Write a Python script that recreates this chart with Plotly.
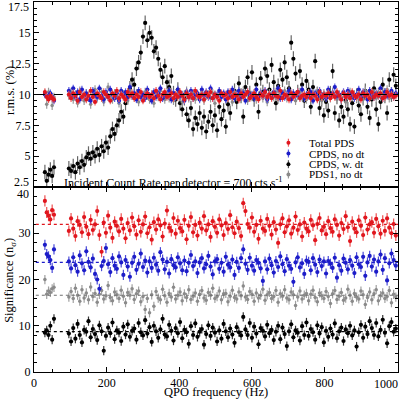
import plotly.graph_objects as go
from plotly.subplots import make_subplots

# ---------------- data ----------------
freq = [30, 35, 40, 45, 50, 55,
        96, 102, 108, 114, 120, 126, 132, 138, 144, 150,
        156, 162, 168, 174, 180, 186, 192, 198, 204, 210,
        216, 222, 228, 234, 240, 246, 252, 258, 264, 270,
        276, 282, 288, 294, 300, 306, 312, 318, 324, 330,
        336, 342, 348, 354, 360, 366, 372, 378, 384, 390,
        396, 402, 408, 414, 420, 426, 432, 438, 444, 450,
        456, 462, 468, 474, 480, 486, 492, 498, 504, 510,
        516, 522, 528, 534, 540, 546, 552, 558, 564, 570,
        576, 582, 588, 594, 600, 606, 612, 618, 624, 630,
        636, 642, 648, 654, 660, 666, 672, 678, 684, 690,
        696, 702, 708, 714, 720, 726, 732, 738, 744, 750,
        756, 762, 768, 774, 780, 786, 792, 798, 804, 810,
        816, 822, 828, 834, 840, 846, 852, 858, 864, 870,
        876, 882, 888, 894, 900, 906, 912, 918, 924, 930,
        936, 942, 948, 954, 960, 966, 972, 978, 984, 990,
        996]

# r.m.s. (%) -- top panel
rms_total = [10.2, 9.8, 9.6, 9.9, 9.7, 9.6,
    10.0, 9.7, 10.1, 9.9, 9.5, 10.2, 9.8, 10.0, 9.6, 9.9,
    10.3, 9.8, 9.4, 10.1, 9.9, 9.7, 10.2, 10.0, 9.8, 9.5,
    10.1, 9.9, 10.3, 9.7, 10.0, 9.8, 9.6, 10.2, 9.9, 10.1,
    9.7, 10.0, 9.8, 10.2, 9.5, 9.9, 10.1, 9.8, 10.0, 9.7,
    10.3, 9.9, 9.6, 10.0, 10.2, 9.8, 9.9, 10.1, 9.7, 10.0,
    9.8, 10.2, 9.9, 9.6, 10.1, 9.8, 10.0, 9.7, 10.3, 9.9,
    9.8, 10.0, 9.6, 10.1, 9.9, 10.2, 9.7, 10.0, 9.8, 9.5,
    10.1, 9.9, 10.0, 9.7, 10.2, 9.8, 10.0, 9.9, 9.6, 10.1,
    9.8, 10.0, 10.2, 9.7, 9.9, 10.1, 9.8, 9.6, 10.0, 9.9,
    10.2, 9.8, 10.0, 9.7, 10.1, 9.9, 9.8, 10.3, 9.7, 10.0,
    9.9, 9.6, 10.1, 9.8, 10.0, 10.2, 9.7, 9.9, 10.0, 9.8,
    10.1, 9.7, 10.0, 9.9, 9.6, 10.2, 9.8, 10.0, 9.9, 10.1,
    9.7, 10.0, 9.8, 10.2, 9.9, 9.6, 10.1, 9.8, 10.0, 9.7,
    10.2, 9.9, 9.8, 10.0, 9.6, 10.1, 9.9, 10.0, 9.7, 10.2,
    9.8, 10.0, 9.9, 10.1, 9.7, 9.8, 10.2, 9.9, 10.0, 9.8,
    9.9]

rms_cpds = [10.0, 9.9, 9.7, 10.1, 9.8, 9.5,
    10.3, 9.9, 10.5, 9.8, 10.2, 9.6, 10.4, 9.9, 10.1, 9.7,
    9.5, 10.3, 10.0, 9.8, 10.5, 9.9, 9.6, 10.2, 9.8, 10.4,
    10.0, 9.7, 10.1, 9.5, 10.3, 9.9, 10.2, 9.8, 10.6, 9.9,
    10.1, 9.6, 10.3, 9.8, 10.0, 9.7, 10.4, 9.9, 9.5, 10.2,
    9.8, 10.1, 10.5, 9.7, 10.0, 9.9, 10.3, 9.6, 10.1, 9.8,
    10.4, 9.9, 10.0, 9.5, 10.2, 9.8, 10.3, 9.7, 10.0, 10.1,
    9.6, 10.4, 9.9, 10.2, 9.8, 10.5, 9.7, 10.0, 9.9, 10.3,
    9.8, 10.1, 9.6, 10.2, 9.9, 10.4, 9.7, 10.0, 10.3, 9.8,
    10.1, 9.5, 10.2, 9.9, 10.0, 9.7, 10.4, 9.8, 10.1, 9.9,
    10.3, 9.6, 10.0, 9.8, 10.2, 9.9, 10.5, 9.7, 10.1, 9.8,
    10.0, 10.3, 9.6, 10.1, 9.9, 10.2, 9.8, 10.4, 9.7, 10.0,
    9.9, 10.2, 9.5, 10.1, 9.8, 10.3, 9.9, 10.0, 9.7, 10.4,
    9.8, 10.1, 10.6, 9.9, 10.0, 9.6, 10.2, 9.8, 10.3, 9.9,
    10.1, 9.7, 10.0, 10.4, 9.8, 10.2, 9.9, 9.6, 10.3, 10.0,
    9.8, 10.1, 9.9, 10.5, 9.7, 10.2, 9.9, 10.0, 10.3, 9.8,
    10.1]

rms_cpds_dt = [3.7, 3.0, 3.5, 3.9, 3.4, 4.1,
    4.0, 3.8, 4.2, 3.7, 4.4, 4.1, 4.6, 4.3, 4.9, 5.2,
    4.8, 5.3, 5.0, 5.6, 5.1, 5.8, 5.4, 6.1, 5.7, 6.6,
    7.2, 6.8, 7.5, 7.9, 8.6, 8.2, 9.3, 9.8, 10.5, 11.2,
    10.8, 12.1, 12.6, 13.4, 14.7, 15.8, 14.4, 15.0, 14.6, 13.5,
    13.8, 12.9, 12.0, 11.4, 12.3, 11.0, 10.6, 11.5, 10.1, 9.6,
    10.4, 9.3, 8.8, 9.7, 8.4, 7.9, 8.9, 7.2, 8.1, 7.6,
    8.5, 7.3, 8.2, 7.0, 7.8, 8.6, 7.5, 8.3, 7.1, 9.0,
    8.0, 8.7, 7.4, 9.2, 8.5, 9.8, 10.3, 9.4, 10.9, 9.9,
    8.2, 10.6, 11.4, 10.1, 11.8, 9.6, 10.8, 8.6, 11.3, 10.2,
    12.1, 11.5, 10.4, 12.4, 11.0, 9.3, 10.7, 12.0, 11.2, 12.6,
    11.4, 10.5, 14.2, 12.9, 11.7, 10.2, 11.9, 10.8, 9.5, 11.1,
    10.4, 9.0, 10.6, 12.7, 10.0, 8.9, 9.6, 8.3, 9.4, 8.7,
    10.1, 11.9, 8.5, 9.8, 7.9, 9.0, 8.2, 9.5, 8.8, 7.6,
    9.3, 7.4, 9.9, 9.1, 8.4, 9.7, 10.3, 9.0, 8.1, 9.6,
    10.5, 8.8, 7.6, 9.4, 10.8, 9.9, 8.5, 11.2, 10.0, 11.6,
    10.7]

rms_pds1 = [10.1, 9.2, 10.2, 9.9, 9.1, 9.8,
    9.9, 10.2, 9.6, 10.0, 9.3, 10.3, 9.8, 9.5, 10.1, 9.9,
    9.2, 10.0, 10.4, 9.7, 9.9, 10.2, 9.4, 10.0, 10.6, 9.8,
    9.6, 10.1, 9.9, 9.3, 10.2, 10.0, 9.7, 9.5, 10.3, 9.9,
    9.8, 10.1, 9.4, 10.0, 9.7, 10.2, 9.9, 9.6, 10.0, 9.3,
    10.1, 9.8, 10.3, 9.9, 9.6, 10.0, 9.7, 10.2, 9.5, 9.9,
    10.1, 9.8, 9.4, 10.0, 10.3, 9.7, 9.9, 10.1, 9.6, 10.0,
    9.8, 10.2, 9.5, 9.9, 10.0, 9.7, 10.1, 9.3, 9.9, 10.2,
    9.8, 10.0, 9.6, 10.1, 9.9, 9.4, 10.2, 9.8, 10.0, 9.7,
    10.3, 9.9, 9.5, 10.0, 9.8, 10.1, 9.6, 9.9, 10.2, 9.7,
    10.0, 9.4, 10.1, 9.9, 9.8, 10.2, 9.6, 10.0, 9.9, 10.3,
    9.7, 10.0, 9.8, 10.1, 9.5, 9.9, 10.2, 9.8, 10.0, 9.6,
    10.1, 9.9, 9.7, 10.0, 10.3, 9.8, 9.5, 10.1, 9.9, 10.0,
    9.7, 10.2, 9.9, 9.6, 10.0, 9.8, 10.1, 9.4, 9.9, 10.2,
    9.8, 10.0, 9.7, 10.1, 9.9, 9.6, 10.3, 9.8, 10.0, 9.9,
    10.1, 9.7, 10.2, 9.8, 10.0, 9.9, 10.4, 9.7, 10.1, 9.9,
    10.0]

# Significance (n_sigma) -- bottom panel
sig_total = [37.0, 34.5, 33.8, 33.0, 35.0, 34.0,
    30.5, 33.2, 31.0, 29.4, 32.6, 31.8, 30.2, 33.5, 31.4, 29.8,
    32.9, 30.7, 31.9, 34.8, 29.6, 26.0, 32.3, 30.1, 33.8, 31.2,
    29.0, 32.5, 31.6, 30.4, 33.1, 31.0, 28.9, 32.2, 30.6, 33.4,
    31.5, 29.7, 32.8, 30.3, 31.9, 33.6, 30.0, 31.3, 28.6, 32.4,
    30.8, 33.0, 31.7, 29.3, 32.1, 34.9, 31.2, 30.5, 33.3, 29.9,
    32.7, 31.1, 30.4, 32.9, 28.7, 31.6, 33.5, 30.2, 31.8, 29.5,
    32.3, 31.0, 33.7, 30.6, 31.9, 29.2, 32.6, 31.4, 30.1, 33.0,
    31.7, 29.6, 32.2, 30.9, 33.9, 31.3, 30.0, 32.5, 31.1, 29.4,
    36.5, 34.8, 32.0, 31.2, 33.4, 30.3, 31.8, 28.8, 32.7, 31.0,
    30.5, 33.1, 31.6, 29.7, 32.4, 30.8, 27.9, 31.9, 33.2, 30.2,
    31.5, 32.8, 29.9, 31.2, 33.6, 30.7, 31.9, 29.3, 32.3, 31.0,
    30.4, 32.9, 31.7, 28.5, 32.0, 33.3, 30.6, 31.4, 29.8, 32.6,
    31.1, 30.3, 33.0, 31.8, 29.5, 32.2, 30.9, 33.7, 31.3, 28.3,
    32.5, 31.0, 30.2, 32.8, 31.6, 29.6, 33.4, 30.8, 31.9, 32.4,
    30.1, 33.1, 31.5, 29.9, 32.7, 30.5, 33.2, 31.2, 30.0, 32.0,
    29.5]

sig_cpds = [27.5, 25.5, 25.0, 24.2, 22.5, 26.5,
    23.9, 22.4, 24.8, 23.1, 21.7, 25.2, 23.5, 22.0, 26.1, 23.8,
    22.6, 24.5, 21.2, 20.0, 18.0, 22.9, 24.0, 26.8, 23.3, 21.6,
    24.6, 23.0, 22.3, 25.0, 23.7, 21.0, 24.2, 22.8, 20.6, 23.6,
    24.9, 22.1, 23.4, 25.6, 22.7, 24.1, 21.5, 23.9, 22.5, 24.7,
    23.2, 21.9, 25.9, 24.3, 22.2, 23.8, 21.3, 24.4, 23.1, 22.6,
    24.8, 23.5, 22.0, 24.1, 21.8, 23.6, 25.3, 22.9, 23.9, 21.4,
    23.7, 24.6, 22.4, 23.3, 25.1, 22.8, 21.1, 23.9, 24.4, 22.3,
    23.6, 21.7, 24.9, 23.2, 22.6, 24.3, 21.0, 23.8, 22.5, 24.6,
    26.5, 23.4, 22.1, 24.7, 23.0, 21.9, 24.2, 23.6, 22.4, 19.7,
    23.9, 22.2, 24.5, 23.1, 21.5, 24.0, 22.7, 25.0, 23.3, 21.8,
    24.4, 23.0, 22.3, 19.5, 23.7, 24.8, 22.6, 23.5, 21.2, 24.1,
    23.8, 22.0, 24.6, 23.2, 21.6, 24.3, 22.9, 23.9, 21.3, 24.0,
    23.4, 22.5, 24.7, 20.4, 23.1, 21.9, 24.5, 23.6, 22.2, 24.2,
    23.0, 21.4, 24.8, 23.3, 22.7, 24.9, 20.8, 23.7, 25.1, 22.8,
    24.3, 21.7, 23.9, 25.4, 22.1, 24.6, 19.8, 23.5, 25.6, 24.2,
    23.0]

sig_cpds_dt = [8.5, 9.0, 8.0, 10.0, 7.0, 11.5,
    8.3, 6.6, 9.5, 7.2, 10.4, 8.0, 6.4, 9.1, 8.7, 11.0,
    7.5, 9.3, 8.2, 6.9, 10.1, 8.8, 4.6, 7.8, 9.6, 8.4,
    10.7, 7.1, 9.0, 8.5, 6.7, 9.8, 8.1, 10.3, 7.6, 8.9,
    9.4, 7.0, 10.6, 8.6, 7.9, 11.2, 8.3, 9.7, 6.5, 10.0,
    8.8, 7.4, 9.2, 11.5, 8.1, 7.7, 10.2, 8.9, 6.8, 9.5,
    8.4, 10.8, 7.3, 9.1, 8.6, 6.1, 9.9, 8.0, 10.5, 7.6,
    8.7, 9.3, 5.9, 8.2, 10.1, 7.8, 9.6, 8.5, 6.6, 9.0,
    7.2, 10.4, 8.8, 7.5, 9.4, 8.1, 6.3, 9.7, 8.6, 7.9,
    11.9, 9.2, 8.0, 10.6, 7.4, 9.8, 8.3, 6.0, 9.5, 8.9,
    7.7, 10.2, 8.4, 9.1, 6.9, 8.7, 10.0, 7.1, 9.6, 8.2,
    5.6, 8.8, 10.3, 7.5, 9.0, 8.5, 6.8, 9.9, 8.0, 10.7,
    7.8, 9.3, 8.6, 7.0, 10.1, 8.3, 9.7, 6.4, 8.9, 7.6,
    9.4, 8.1, 10.5, 7.3, 8.8, 9.6, 6.7, 9.2, 8.4, 10.0,
    7.9, 9.0, 5.5, 8.6, 10.2, 7.4, 9.8, 8.2, 11.0, 9.5,
    8.0, 10.6, 7.7, 9.1, 11.3, 8.5, 6.2, 9.9, 10.8, 8.7,
    9.4]

sig_pds1 = [20.0, 16.8, 17.5, 17.2, 18.0, 18.3,
    16.2, 17.4, 15.9, 18.1, 16.6, 15.3, 17.8, 16.0, 17.1, 15.6,
    18.4, 16.3, 17.0, 15.1, 16.8, 17.6, 15.8, 16.5, 18.7, 16.1,
    15.4, 17.3, 16.7, 15.9, 17.7, 16.4, 15.0, 17.2, 16.6, 18.0,
    15.7, 16.9, 17.5, 15.2, 16.3, 13.5, 15.9, 12.8, 16.7, 14.2,
    17.4, 16.0, 15.6, 17.9, 16.5, 15.1, 17.0, 16.2, 18.3, 15.8,
    16.6, 17.3, 15.4, 16.9, 16.1, 17.8, 15.7, 16.4, 17.1, 15.3,
    16.8, 17.6, 16.0, 15.5, 17.2, 16.6, 18.1, 15.9, 16.3, 17.5,
    15.6, 16.9, 17.0, 15.2, 16.4, 17.7, 16.1, 15.8, 17.3, 16.5,
    18.6, 16.2, 15.7, 17.4, 16.8, 15.3, 17.1, 16.0, 16.6, 17.9,
    15.5, 16.7, 17.2, 15.9, 16.3, 17.6, 15.1, 16.9, 16.4, 17.8,
    16.0, 15.6, 17.3, 16.7, 14.4, 16.2, 17.5, 15.8, 16.6, 17.0,
    15.4, 16.8, 17.7, 16.1, 15.2, 17.1, 16.5, 15.9, 17.4, 16.3,
    14.8, 16.9, 17.6, 15.7, 16.4, 17.2, 15.5, 16.0, 17.9, 16.6,
    15.3, 17.0, 16.2, 15.8, 17.5, 16.7, 14.6, 16.1, 17.3, 15.6,
    16.9, 17.8, 15.4, 16.5, 17.1, 15.9, 16.3, 17.6, 15.0, 16.8,
    16.2]

# error-bar half sizes per series
rms_err_total, rms_err_cpds, rms_err_cpds_dt, rms_err_pds1 = 0.3, 0.3, 0.6, 0.35
sig_err_total, sig_err_cpds, sig_err_cpds_dt, sig_err_pds1 = 1.2, 1.1, 1.0, 1.0

# reference levels
rms_level = 10.0
sig_levels = [31.9, 23.7, 16.6, 8.75]

series_names = ["Total PDS", "CPDS, no dt", "CPDS, w. dt", "PDS1, no dt"]
x_ticks = [0, 200, 400, 600, 800, 1000]
rms_ticks = [2.5, 5, 7.5, 10, 12.5, 15, 17.5]
sig_ticks = [0, 10, 20, 30, 40]

for arr in (rms_total, rms_cpds, rms_cpds_dt, rms_pds1,
            sig_total, sig_cpds, sig_cpds_dt, sig_pds1):
    assert len(arr) == len(freq), len(arr)

# ---------------- styling ----------------
RED, BLUE, GRAY, BLACK = "#e0161e", "#1c1cc8", "#8a8a8a", "#000000"
FONT = "Liberation Serif"

fig = make_subplots(rows=2, cols=1, shared_xaxes=True, vertical_spacing=0)


def add(y, err, color, barcolor, row, size=4.2):
    fig.add_trace(go.Scatter(
        x=freq, y=y, mode="markers",
        marker=dict(color=color, size=size, line=dict(width=0)),
        error_y=dict(type="constant", value=err, color=barcolor,
                     thickness=1.2, width=0),
        showlegend=False, hoverinfo="skip"), row=row, col=1)


# top panel (draw order: black, gray, blue, red)
add(rms_cpds_dt, rms_err_cpds_dt, BLACK, "#666666", 1)
add(rms_pds1, rms_err_pds1, GRAY, "#9a9a9a", 1, size=3.5)
add(rms_cpds, rms_err_cpds, BLUE, "#5a5ae0", 1)
add(rms_total, rms_err_total, RED, "#f06060", 1)
# bottom panel
add(sig_cpds_dt, sig_err_cpds_dt, BLACK, "#333333", 2)
add(sig_pds1, sig_err_pds1, GRAY, "#a0a0a0", 2, size=3.5)
add(sig_cpds, sig_err_cpds, BLUE, "#4a4ad8", 2)
add(sig_total, sig_err_total, RED, "#ee5050", 2)

axis_common = dict(
    showline=True, linecolor="black", linewidth=1, mirror="ticks",
    ticks="inside", ticklen=5, tickwidth=1, tickcolor="black",
    showgrid=False, zeroline=False,
    tickfont=dict(family=FONT, size=12, color="black"),
)

fig.update_xaxes(axis_common, range=[0, 1002], tickmode="array",
                 tickvals=x_ticks,
                 ticktext=[str(v) for v in x_ticks[:-1]] + [""],
                 minor=dict(ticks="inside", ticklen=3, tickcolor="black",
                            tickmode="linear", tick0=0, dtick=50, showgrid=False))
fig.update_xaxes(showticklabels=False, row=1, col=1)

fig.update_yaxes(axis_common, range=[2.5, 17.5], tickmode="array",
                 tickvals=rms_ticks,
                 ticktext=[""] + ["5", "7.5", "10", "12.5", "15"] + [""],
                 minor=dict(ticks="inside", ticklen=3, tickcolor="black",
                            tickmode="linear", tick0=0, dtick=0.5, showgrid=False),
                 domain=[0.5, 1.0], row=1, col=1)
fig.update_yaxes(axis_common, range=[0, 40], tickmode="array",
                 tickvals=sig_ticks,
                 ticktext=["0", "10", "20", "30", ""],
                 minor=dict(ticks="inside", ticklen=3, tickcolor="black",
                            tickmode="linear", tick0=0, dtick=2, showgrid=False),
                 domain=[0.0, 0.5], row=2, col=1)

shapes = []
# top reference line
shapes.append(dict(type="line", xref="x domain", yref="y", x0=0.005, x1=1,
                   y0=rms_level, y1=rms_level,
                   line=dict(color="black", width=1.2, dash="dash")))
for lvl, c in zip(sig_levels, [RED, BLUE, "#707070", BLACK]):
    shapes.append(dict(type="line", xref="x2 domain", yref="y2", x0=0.005, x1=1,
                       y0=lvl, y1=lvl,
                       line=dict(color=c, width=1.2, dash="dot")))

# custom compact legend (symbols as shapes, labels as annotations)
leg_x = 0.699
leg_ys = [0.6197, 0.5905, 0.5616, 0.5338]
leg_colors = [RED, BLUE, BLACK, GRAY]
leg_bar = ["#f06060", "#5a5ae0", "#555555", "#9a9a9a"]
annotations = []
for name, yy, c, bc in zip(series_names, leg_ys, leg_colors, leg_bar):
    shapes.append(dict(type="line", xref="paper", yref="paper",
                       xsizemode="pixel", ysizemode="pixel",
                       xanchor=leg_x, yanchor=yy, x0=0, x1=0, y0=-4, y1=4,
                       line=dict(color=bc, width=1.2)))
    shapes.append(dict(type="circle", xref="paper", yref="paper",
                       xsizemode="pixel", ysizemode="pixel",
                       xanchor=leg_x, yanchor=yy, x0=-2, x1=2, y0=-2, y1=2,
                       fillcolor=c, line=dict(width=0)))
    annotations.append(dict(xref="paper", yref="paper", x=0.749, y=yy,
                            xanchor="left", yanchor="middle", showarrow=False,
                            text=name, font=dict(family=FONT, size=11, color="black")))

# shifted edge tick labels
annotations += [
    dict(xref="paper", yref="paper", x=0, y=1.0, xanchor="right", yanchor="middle",
         xshift=-3, yshift=-5, showarrow=False, text="17.5",
         font=dict(family=FONT, size=12, color="black")),
    dict(xref="paper", yref="paper", x=0, y=0.5, xanchor="right", yanchor="middle",
         xshift=-3, yshift=5, showarrow=False, text="2.5",
         font=dict(family=FONT, size=12, color="black")),
    dict(xref="paper", yref="paper", x=0, y=0.5, xanchor="right", yanchor="middle",
         xshift=-3, yshift=-7, showarrow=False, text="40",
         font=dict(family=FONT, size=12, color="black")),
    dict(xref="paper", yref="paper", x=1, y=0, xanchor="right", yanchor="top",
         xshift=2, yshift=-3, showarrow=False, text="1000",
         font=dict(family=FONT, size=12, color="black")),
]
# axis titles
annotations += [
    dict(xref="paper", yref="paper", x=-0.066, y=0.762, textangle=-90,
         xanchor="center", yanchor="middle", showarrow=False, text="r.m.s. (%)",
         font=dict(family=FONT, size=12.5, color="black")),
    dict(xref="paper", yref="paper", x=-0.066, y=0.249, textangle=-90,
         xanchor="center", yanchor="middle", showarrow=False,
         text="Significance (n<sub>σ</sub>)",
         font=dict(family=FONT, size=12.5, color="black")),
    dict(xref="paper", yref="paper", x=0.5, y=0, yshift=-29,
         xanchor="center", yanchor="bottom", showarrow=False,
         text="QPO frequency (Hz)",
         font=dict(family=FONT, size=12.5, color="black")),
    dict(xref="paper", yref="paper", x=0.077, y=0.5135,
         xanchor="left", yanchor="middle", showarrow=False,
         text="Incident Count Rate per detector = 700 cts s<sup>-1</sup>",
         font=dict(family=FONT, size=12, color="black")),
]

fig.update_layout(
    width=400, height=402,
    margin=dict(l=34, r=2, t=2, b=30),
    plot_bgcolor="white", paper_bgcolor="white",
    shapes=shapes, annotations=annotations,
    showlegend=False,
    font=dict(family=FONT, size=12, color="black"),
)

fig.write_html("out.html")
